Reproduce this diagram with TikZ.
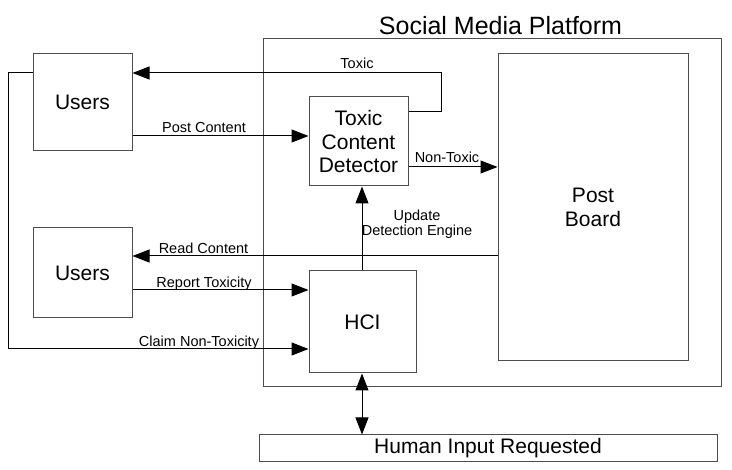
\documentclass[tikz,border=0pt]{standalone}
\usepackage{fontspec}
\setmainfont{Liberation Sans}
\usetikzlibrary{arrows.meta}
\def\blocknode{\node[draw=black!70,line width=1pt,font=\fontsize{21}{23.5}\selectfont,align=center,inner sep=0pt]}
\def\labelnode{\node[font=\fontsize{14.5}{15}\selectfont,align=center,inner sep=0pt]}
\def\drawflow{\draw[line width=1pt,-{Triangle[length=17pt,width=13pt]}]}

\begin{document}
\begin{tikzpicture}[x=1pt,y=-1pt]
\useasboundingbox (0,0) rectangle (732,470);
\blocknode[minimum width=458pt,minimum height=348pt] (platform) at (492,213) {};
\node[font=\fontsize{25}{28}\selectfont,anchor=base,inner sep=0pt] (title) at (500.5,34.5) {Social Media Platform};
\blocknode[minimum width=99pt,minimum height=97pt] (users1) at (82.5,102.5) {Users};
\blocknode[minimum width=99pt,minimum height=90pt] (users2) at (82.5,273) {Users};
\blocknode[minimum width=99pt,minimum height=89pt] (detector) at (358.5,141.5) {Toxic\\Content\\Detector};
\blocknode[minimum width=107pt,minimum height=102pt] (hci) at (362.5,322) {HCI};
\blocknode[minimum width=190pt,minimum height=307pt] (board) at (593,207.5) {Post\\Board};
\blocknode[minimum width=458pt,minimum height=27pt] (human) at (488,448.5) {Human Input Requested};
\coordinate (tbend) at (441,73);
\coordinate (cbend) at (8,349);
% connectors
\drawflow (detector.east |- 0,112) -| (tbend) -- (users1.east |- tbend);
\drawflow (users1.east |- 0,136) -- (detector.west |- 0,136);
\drawflow (detector.east |- 0,167) -- (board.west |- 0,167);
\drawflow (hci.north -| 362,0) -- (detector.south -| 362,0);
\drawflow (board.west |- 0,256) -- (users2.east |- 0,256);
\drawflow (users2.east |- 0,290) -- (hci.west |- 0,290);
\drawflow (users1.west |- 0,73) -| (cbend) -- (hci.west |- cbend);
\draw[line width=1pt,{Triangle[length=17pt,width=13pt]}-{Triangle[length=17pt,width=13pt]}] (hci.south -| 362,0) -- (human.north -| 362,0);
% labels
\labelnode[anchor=base] (ltoxic) at (357,69) {Toxic};
\labelnode[anchor=base] (lpost) at (204,133) {Post Content};
\labelnode[anchor=base] (lnontoxic) at (447,163) {Non-Toxic};
\labelnode (lupdate) at (417,224.5) {Update\\Detection Engine};
\labelnode[anchor=base] (lread) at (203.5,254) {Read Content};
\labelnode[anchor=base] (lreport) at (204,287.5) {Report Toxicity};
\labelnode[anchor=base] (lclaim) at (199,346.5) {Claim Non-Toxicity};
\end{tikzpicture}
\end{document}
